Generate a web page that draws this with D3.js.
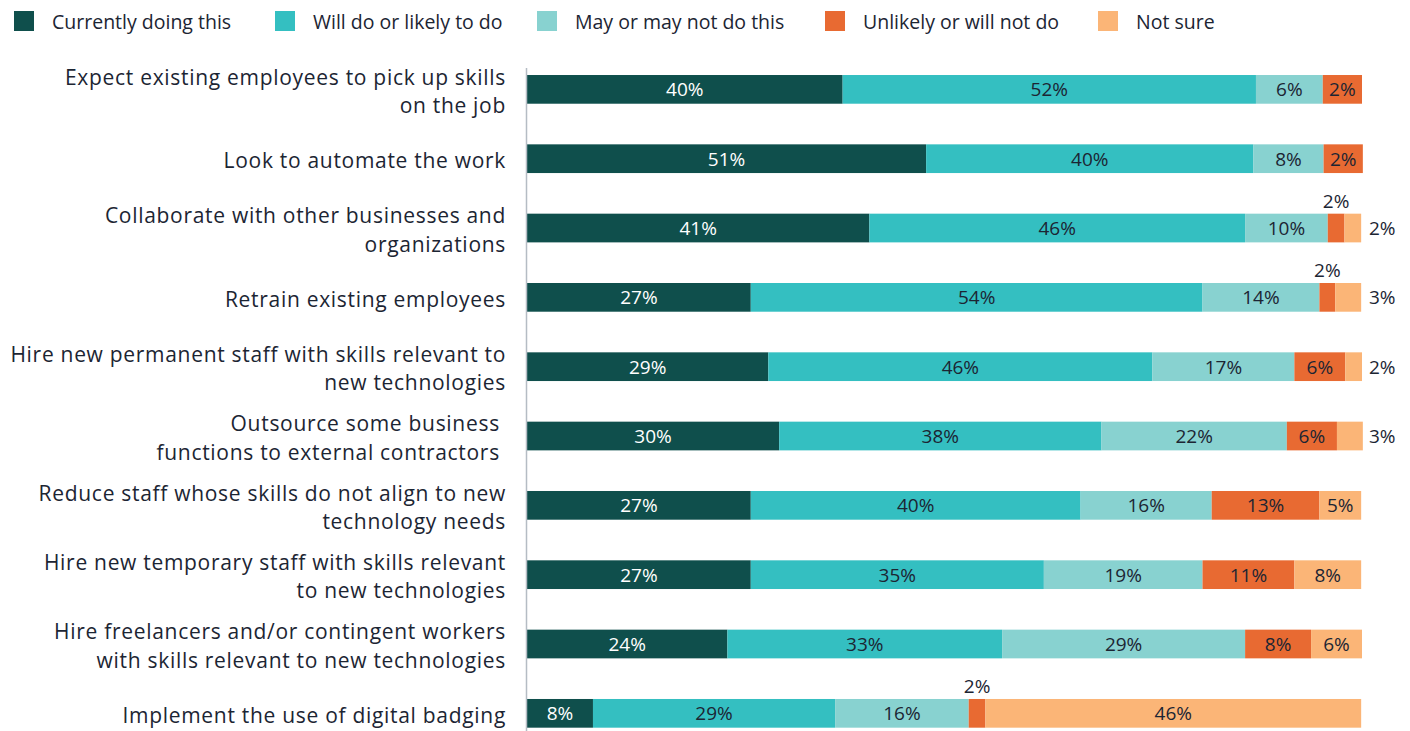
<!DOCTYPE html>
<html lang="en">
<head>
<meta charset="utf-8" />
<title>Skills strategies</title>
<script src="https://cdn.jsdelivr.net/npm/d3@7"></script>
<style>
    body { margin: 0; background: #fff; }
    text { font-family: "Open Sans", "DejaVu Sans", sans-serif; fill: #1c2533; }
</style>
</head>
<body>
<div id="chart"></div>
<script>
    // categories (line breaks as in the original)
    const categories = [
        "Expect existing employees to pick up skills\non the job",
        "Look to automate the work",
        "Collaborate with other businesses and\norganizations",
        "Retrain existing employees",
        "Hire new permanent staff with skills relevant to\nnew technologies",
        "Outsource some business\u00a0\nfunctions to external contractors\u00a0",
        "Reduce staff whose skills do not align to new\ntechnology needs",
        "Hire new temporary staff with skills relevant\nto new technologies",
        "Hire freelancers and/or contingent workers\nwith skills relevant to new technologies",
        "Implement the use of digital badging"
    ];

    const seriesNames = ["Currently doing this", "Will do or likely to do", "May or may not do this",
        "Unlikely or will not do", "Not sure"];
    const colors = ["#0f4f4c", "#34bfc1", "#88d2d0", "#e86a32", "#fbb577"];

    // printed percentages
    const current  = [40, 51, 41, 27, 29, 30, 27, 27, 24, 8];
    const willDo   = [52, 40, 46, 54, 46, 38, 40, 35, 33, 29];
    const mayNot   = [6, 8, 10, 14, 17, 22, 16, 19, 29, 16];
    const unlikely = [2, 2, 2, 2, 6, 6, 13, 11, 8, 2];
    const notSure  = [0, 0, 2, 3, 2, 3, 5, 8, 6, 46];

    // segment lengths as drawn (share of the full bar)
    const currentLen  = [37.8, 47.8, 41.0, 26.8, 28.9, 30.2, 26.8, 26.8, 24.0, 7.9];
    const willDoLen   = [49.5, 39.2, 45.0, 54.1, 46.0, 38.6, 39.5, 35.1, 32.9, 29.0];
    const mayNotLen   = [8.0, 8.4, 9.9, 14.0, 17.0, 22.2, 15.7, 19.0, 29.1, 16.0];
    const unlikelyLen = [4.7, 4.7, 2.0, 1.9, 6.1, 6.0, 12.9, 11.0, 7.9, 2.0];
    const notSureLen  = [0, 0, 2.0, 3.1, 2.0, 3.1, 5.0, 8.0, 6.1, 45.0];

    const printed = [current, willDo, mayNot, unlikely, notSure];
    const lengths = [currentLen, willDoLen, mayNotLen, unlikelyLen, notSureLen];

    const width = 1410, height = 731;

    const svg = d3.select("#chart")
        .append("svg")
        .attr("width", width)
        .attr("height", height);

    const x = d3.scaleLinear().domain([0, 100]).range([527, 1362]);
    const y = d3.scaleBand()
        .domain(categories)
        .range([54.7, 748])
        .paddingInner(0.586)
        .paddingOuter(0.293);

    // build stacked segments
    const segs = [];
    categories.forEach((c, i) => {
        let acc = 0;
        lengths.forEach((arr, s) => {
            const len = arr[i];
            if (len > 0) {
                segs.push({cat: c, s: s, x0: acc, x1: acc + len, label: printed[s][i]});
            }
            acc += len;
        });
    });

    svg.selectAll("rect.seg")
        .data(segs)
        .join("rect")
        .attr("class", "seg")
        .attr("x", d => x(d.x0))
        .attr("y", d => y(d.cat))
        .attr("width", d => x(d.x1) - x(d.x0))
        .attr("height", y.bandwidth())
        .attr("fill", d => colors[d.s]);

    // vertical axis line
    svg.append("line")
        .attr("x1", x(0) - 0.5).attr("x2", x(0) - 0.5)
        .attr("y1", 68).attr("y2", height)
        .attr("stroke", "#b5bcc4")
        .attr("stroke-width", 1.5);

    // value labels
    svg.selectAll("text.val")
        .data(segs)
        .join("text")
        .attr("class", "val")
        .style("font-size", "19px")
        .each(function (d) {
            const w = x(d.x1) - x(d.x0);
            const cy = y(d.cat) + y.bandwidth() / 2;
            const t = d3.select(this).text(d.label + "%");
            if (w >= 30) {
                t.attr("x", (x(d.x0) + x(d.x1)) / 2).attr("y", cy + 7)
                    .attr("text-anchor", "middle")
                    .style("fill", d.s === 0 ? "#ffffff" : "#1c2533");
            } else if (d.s === 4) {
                t.attr("x", x(100) + 7).attr("y", cy + 7).attr("text-anchor", "start");
            } else {
                t.attr("x", (x(d.x0) + x(d.x1)) / 2).attr("y", y(d.cat) - 6)
                    .attr("text-anchor", "middle");
            }
        });

    // category labels
    const lineH = 28.4;
    svg.selectAll("text.cat")
        .data(categories)
        .join("text")
        .attr("class", "cat")
        .attr("text-anchor", "end")
        .style("font-size", "21px")
        .style("letter-spacing", "0.7px")
        .each(function (c) {
            const lines = c.split("\n");
            const cy = y(c) + y.bandwidth() / 2 + 9.5;
            d3.select(this).selectAll("tspan")
                .data(lines)
                .join("tspan")
                .attr("x", 506)
                .attr("y", (l, i) => cy + (i - (lines.length - 1) / 2) * lineH)
                .text(l => l);
        });

    // legend
    const legendX = [14, 275, 537, 825, 1098];
    const legend = svg.selectAll("g.leg")
        .data(seriesNames)
        .join("g")
        .attr("class", "leg")
        .attr("transform", (d, i) => `translate(${legendX[i]},11)`);
    legend.append("rect")
        .attr("width", 20).attr("height", 20)
        .attr("fill", (d, i) => colors[i]);
    legend.append("text")
        .attr("x", 38).attr("y", 18)
        .style("font-size", "19.5px")
        .text(d => d);
</script>
</body>
</html>
